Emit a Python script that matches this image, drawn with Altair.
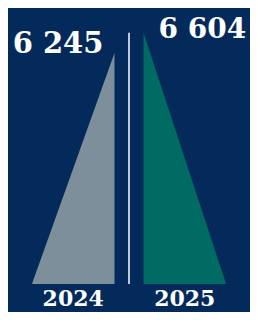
import altair as alt
import pandas as pd

years = ["2024", "2025"]
values = [6245, 6604]
labels = ["6 245", "6 604"]
colors = ["#7c8f9b", "#006b62"]
sides = [-1, 1]

BASE = 2100
TOP = 7050
GAP = 0.176
BG = "#032a5a"

rows = []
for y, v, s in zip(years, values, sides):
    rows.append({"year": y, "x": s * GAP, "v": v})
    rows.append({"year": y, "x": s * (1 + GAP), "v": BASE})
df = pd.DataFrame(rows)

lab = pd.DataFrame({"year": years, "v": values, "label": labels,
                    "edge": [s * GAP for s in sides],
                    "mid": [s * (0.5 + GAP) for s in sides]})

xs = alt.Scale(domain=[-1.466, 1.466], nice=False, zero=False)
ys = alt.Scale(domain=[BASE, TOP], zero=False, nice=False)

area = alt.Chart(df).mark_area(opacity=1).encode(
    x=alt.X("x:Q", scale=xs, axis=None),
    y=alt.Y("v:Q", scale=ys, axis=None),
    y2=alt.datum(BASE),
    color=alt.Color("year:N", scale=alt.Scale(domain=years, range=colors), legend=None),
    detail="year:N",
)

rule = alt.Chart(pd.DataFrame({"x": [0.0]})).mark_rule(color="white", strokeWidth=1.5).encode(
    x=alt.X("x:Q", scale=xs),
    y=alt.datum(BASE),
    y2=alt.datum(max(values)),
)

font = "DejaVu Serif"
val24 = alt.Chart(lab).transform_filter(alt.datum.year == "2024").mark_text(
    align="right", baseline="alphabetic", dx=-11, dy=0, font=font, fontWeight="bold",
    fontSize=29, color="white").encode(
    x=alt.X("edge:Q", scale=xs), y=alt.Y("v:Q", scale=ys), text="label:N")
val25 = alt.Chart(lab).transform_filter(alt.datum.year == "2025").mark_text(
    align="left", baseline="alphabetic", dx=15, dy=5, font=font, fontWeight="bold",
    fontSize=28, color="white").encode(
    x=alt.X("edge:Q", scale=xs), y=alt.Y("v:Q", scale=ys), text="label:N")
yr = alt.Chart(lab).mark_text(
    align="center", baseline="alphabetic", dy=22, font=font, fontWeight="bold",
    fontSize=22, color="white").encode(
    x=alt.X("mid:Q", scale=xs), y=alt.datum(BASE), text="year:N")

chart = alt.layer(area, rule, val24, val25, yr).properties(
    width=242, height=276, background=BG,
    autosize=alt.AutoSizeParams(type="none"),
    padding={"left": 0, "right": 0, "top": 0, "bottom": 28},
).configure_view(stroke=None)

chart.save("out.html", embed_options={"renderer": "svg", "actions": False})
